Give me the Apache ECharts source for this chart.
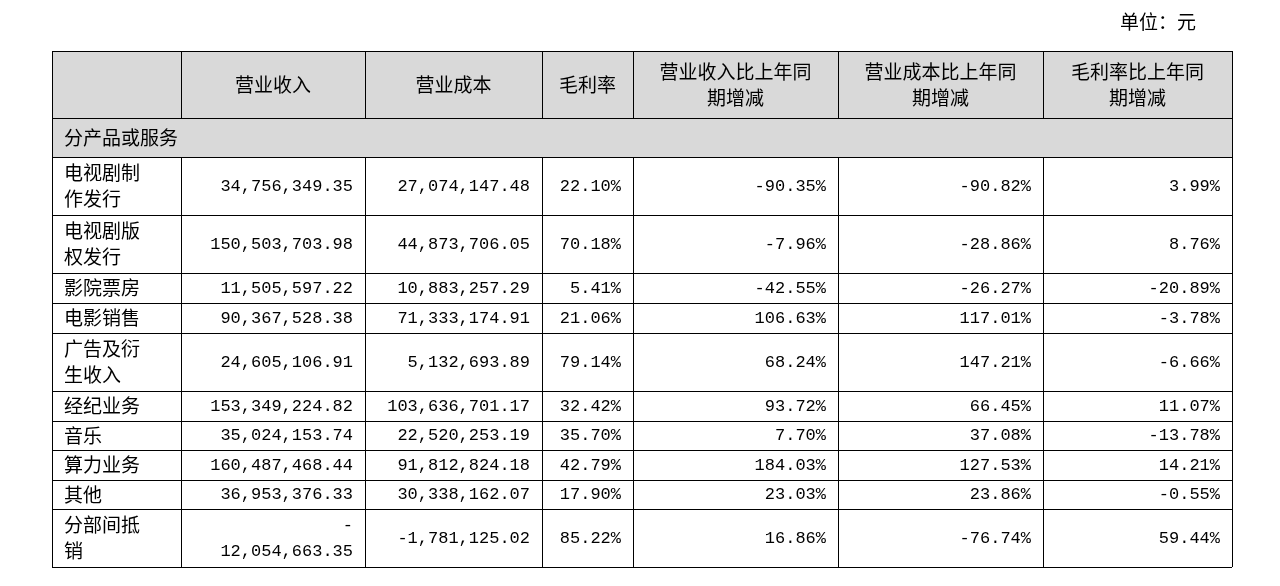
<!DOCTYPE html>
<html><head><meta charset="utf-8">
<script src="https://cdn.jsdelivr.net/npm/echarts@6/dist/echarts.min.js"></script>
<style>html,body{margin:0;padding:0;background:#fff}#c{width:1280px;height:586px}</style>
</head><body><div id="c"></div>
<script>
const unitLabel = '单位：元';
const headers = ['', '营业收入', '营业成本', '毛利率', '营业收入比上年同期增减', '营业成本比上年同期增减', '毛利率比上年同期增减'];
const sectionLabel = '分产品或服务';
const categories = ['电视剧制作发行','电视剧版权发行','影院票房','电影销售','广告及衍生收入','经纪业务','音乐','算力业务','其他','分部间抵销'];
const revenue = [34756349.35,150503703.98,11505597.22,90367528.38,24605106.91,153349224.82,35024153.74,160487468.44,36953376.33,-12054663.35];
const cost = [27074147.48,44873706.05,10883257.29,71333174.91,5132693.89,103636701.17,22520253.19,91812824.18,30338162.07,-1781125.02];
const grossMargin = [22.10,70.18,5.41,21.06,79.14,32.42,35.70,42.79,17.90,85.22];
const revenueYoY = [-90.35,-7.96,-42.55,106.63,68.24,93.72,7.70,184.03,23.03,16.86];
const costYoY = [-90.82,-28.86,-26.27,117.01,147.21,66.45,37.08,127.53,23.86,-76.74];
const marginYoY = [3.99,8.76,-20.89,-3.78,-6.66,11.07,-13.78,14.21,-0.55,59.44];

const colX = [52,181,365,542,633,838,1043,1232];
const rowY = [51,118,157,215,273,303,333,391,421,450,480,509,567];
const CN = '"Noto Sans CJK SC", sans-serif';
const NUM = '"Liberation Mono", "DejaVu Sans Mono", monospace';

function money(v){
  const s = Math.abs(v).toFixed(2).split('.');
  return (v<0?'-':'') + s[0].replace(/\B(?=(\d{3})+(?!\d))/g, ',') + '.' + s[1];
}
function pct(v){ return v.toFixed(2) + '%'; }
function wrap(s, n){ let o=[]; for(let i=0;i<s.length;i+=n) o.push(s.slice(i,i+n)); return o.join('\n'); }

const g = [];
g.push({type:'rect', shape:{x:0,y:0,width:1280,height:586}, style:{fill:'#fff'}, silent:true});
g.push({type:'rect', shape:{x:colX[0],y:rowY[0],width:colX[7]-colX[0],height:rowY[1]-rowY[0]}, style:{fill:'#d9d9d9'}});
g.push({type:'rect', shape:{x:colX[0],y:rowY[1],width:colX[7]-colX[0],height:rowY[2]-rowY[1]}, style:{fill:'#d9d9d9'}});
const line = (x1,y1,x2,y2)=>g.push({type:'line', shape:{x1,y1,x2,y2}, style:{stroke:'#000', lineWidth:1}});
rowY.forEach(y=>line(colX[0],y+0.5,colX[7],y+0.5));
colX.forEach((x,i)=>{
  if(i===0||i===7) line(x+0.5,rowY[0],x+0.5,rowY[12]);
  else { line(x+0.5,rowY[0],x+0.5,rowY[1]); line(x+0.5,rowY[2],x+0.5,rowY[12]); }
});
const text = (t,x,y,align,font,size)=>g.push({type:'text', x, y, style:{text:t, fill:'#000', font:size+'px '+font, align, verticalAlign:'middle', lineHeight:26}});

text(unitLabel, 1196, 22, 'right', CN, 19);
headers.forEach((h,i)=>{
  if(!h) return;
  const k = h.indexOf('期');
  const t = h.length>6 && k>0 ? h.slice(0,k)+'\n'+h.slice(k) : h;
  text(t,(colX[i]+colX[i+1])/2,(rowY[0]+rowY[1])/2,'center',CN,19);
});
text(sectionLabel, 64, (rowY[1]+rowY[2])/2, 'left', CN, 19);

categories.forEach((c,r)=>{
  const y0=rowY[r+2], y1=rowY[r+3], cy=(y0+y1)/2, tall=(y1-y0)>40;
  text(tall?wrap(c,4):c, 64, cy, 'left', CN, 19);
  const cells=[money(revenue[r]),money(cost[r]),pct(grossMargin[r]),pct(revenueYoY[r]),pct(costYoY[r]),pct(marginYoY[r])];
  cells.forEach((s,k)=>{
    let t=s;
    if(k===0 && s.length>=14 && s[0]==='-') t='-\n'+s.slice(1);
    text(t, colX[k+2]-12, cy, 'right', NUM, 17);
  });
});

const chart = echarts.init(document.getElementById('c'));
chart.setOption({animation:false, graphic:{elements:g}});
</script></body></html>
